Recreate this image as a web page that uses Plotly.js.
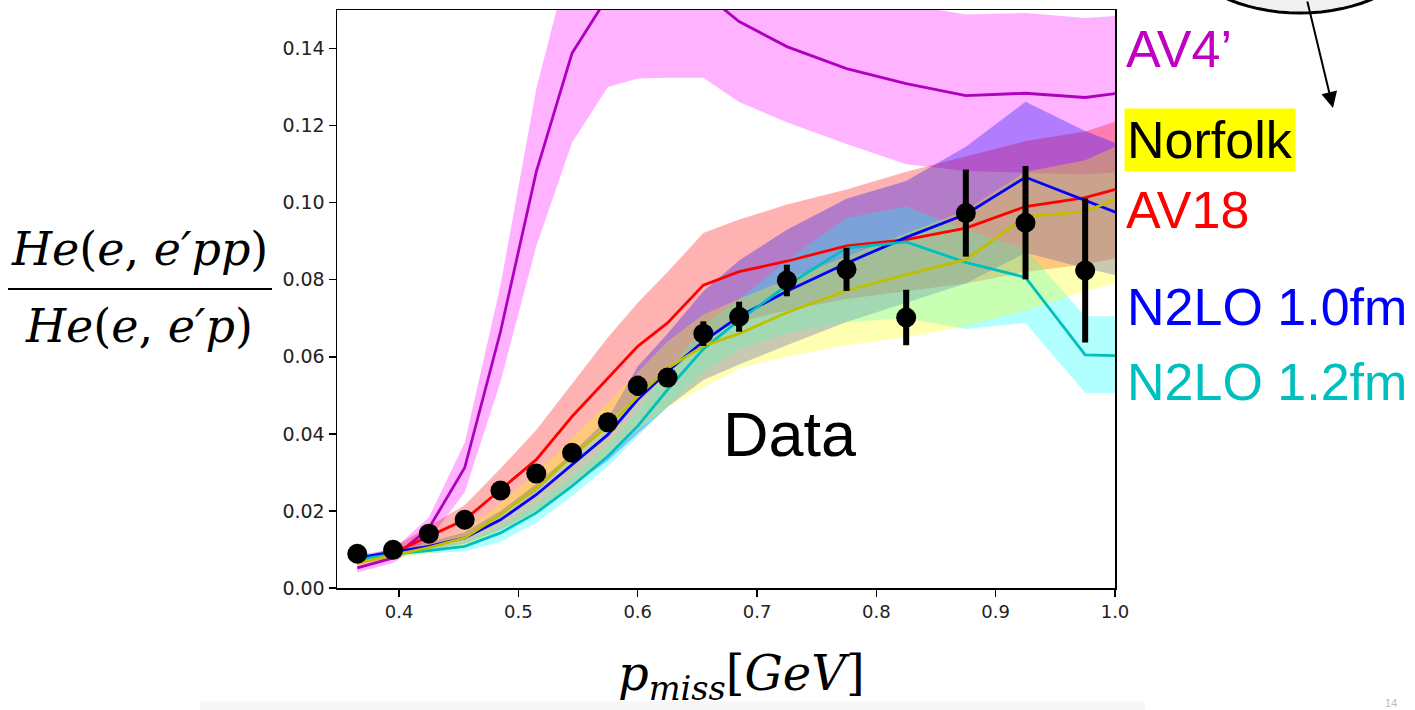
<!DOCTYPE html>
<html>
<head>
<meta charset="utf-8">
<script src="https://cdn.plot.ly/plotly-3.0.1.min.js"></script>
<style>html,body{margin:0;padding:0;background:#fff;}#chart{width:1415px;height:710px;}</style>
</head>
<body>
<div id="chart"></div>
<script>
// ---- theory grid ----
const xTheory = [0.365,0.395,0.425,0.455,0.485,0.515,0.545,0.575,0.6,0.625,0.655,0.685,0.725,0.775,0.825,0.875,0.925,0.975,1.025];

// AV4'
const av4Line = [0.0052,0.0078,0.0155,0.0312,0.0665,0.1080,0.1388,0.1535,0.1580,0.1590,0.1545,0.1470,0.1405,0.1348,0.1309,0.1278,0.1284,0.1273,0.1293];
const av4Hi   = [0.0065,0.0100,0.0183,0.0377,0.0785,0.1295,0.1657,0.1800,0.1850,0.1850,0.1800,0.1720,0.1650,0.1580,0.1515,0.1488,0.1492,0.1479,0.1490];
const av4Lo   = [0.0040,0.0065,0.0125,0.0248,0.0535,0.0887,0.1156,0.1300,0.1322,0.1324,0.1324,0.1261,0.1209,0.1152,0.1100,0.1082,0.1078,0.1073,0.1083];

// AV18
const av18Line = [0.0069,0.0091,0.0134,0.0177,0.0255,0.0333,0.0445,0.0545,0.0627,0.0688,0.0786,0.0821,0.0848,0.0888,0.0904,0.0934,0.0990,0.1013,0.1055];
const av18Hi   = [0.0075,0.0105,0.0160,0.0215,0.0310,0.0410,0.0530,0.0650,0.0740,0.0820,0.0921,0.0956,0.0995,0.1034,0.1080,0.1120,0.1160,0.1185,0.1235];
const av18Lo   = [0.0060,0.0080,0.0110,0.0135,0.0190,0.0250,0.0340,0.0430,0.0500,0.0560,0.0650,0.0690,0.0720,0.0750,0.0770,0.0790,0.0820,0.0840,0.0870];

// N2LO 1.0 fm
const n10Line = [0.0078,0.0093,0.0108,0.0130,0.0177,0.0242,0.0320,0.0398,0.0489,0.0562,0.0640,0.0705,0.0770,0.0843,0.0910,0.0970,0.1066,0.1006,0.0946];
const n10Hi   = [0.0085,0.0100,0.0120,0.0145,0.0200,0.0270,0.0350,0.0440,0.0575,0.0660,0.0770,0.0850,0.0930,0.1010,0.1056,0.1145,0.1262,0.1186,0.1125];
const n10Lo   = [0.0070,0.0085,0.0098,0.0115,0.0150,0.0200,0.0265,0.0330,0.0400,0.0470,0.0540,0.0580,0.0630,0.0690,0.0740,0.0790,0.0870,0.0830,0.0795];

// N2LO 1.2 fm
const n12Line = [0.0073,0.0088,0.0097,0.0108,0.0143,0.0195,0.0264,0.0342,0.0420,0.0515,0.0620,0.0695,0.0785,0.0882,0.0898,0.0845,0.0806,0.0605,0.0601];
const n12Hi   = [0.0080,0.0095,0.0105,0.0120,0.0160,0.0220,0.0290,0.0370,0.0460,0.0560,0.0680,0.0750,0.0850,0.0960,0.0990,0.0930,0.0880,0.0705,0.0705];
const n12Lo   = [0.0065,0.0080,0.0090,0.0095,0.0120,0.0170,0.0238,0.0316,0.0393,0.0471,0.0560,0.0620,0.0660,0.0690,0.0700,0.0672,0.0688,0.0506,0.0506];

// Norfolk
const norLine = [0.0065,0.0085,0.0105,0.0130,0.0190,0.0260,0.0342,0.0420,0.0497,0.0570,0.0628,0.0660,0.0715,0.0772,0.0813,0.0852,0.0964,0.0977,0.1040];
const norHi   = [0.0075,0.0095,0.0120,0.0150,0.0220,0.0300,0.0390,0.0480,0.0560,0.0640,0.0710,0.0750,0.0800,0.0860,0.0920,0.0980,0.1080,0.1110,0.1180];
const norLo   = [0.0055,0.0075,0.0090,0.0110,0.0150,0.0200,0.0270,0.0340,0.0410,0.0470,0.0520,0.0570,0.0600,0.0630,0.0650,0.0680,0.0720,0.0770,0.0810];

// ---- data ----
const xData   = [0.365,0.395,0.425,0.455,0.485,0.515,0.545,0.575,0.6,0.625,0.655,0.685,0.725,0.775,0.825,0.875,0.925,0.975];
const yData   = [0.0089,0.0099,0.0141,0.0177,0.0253,0.0297,0.0351,0.0430,0.0525,0.0546,0.0660,0.0704,0.0798,0.0827,0.0702,0.0973,0.0948,0.0824];
const errData = [0.0010,0.0010,0.0012,0.0013,0.0015,0.0016,0.0018,0.0020,0.0026,0.0022,0.0032,0.0039,0.0041,0.0056,0.0072,0.0113,0.0147,0.0187];

const xTicks = [0.4,0.5,0.6,0.7,0.8,0.9,1.0];
const yTicks = [0.00,0.02,0.04,0.06,0.08,0.10,0.12,0.14];

function band(hi, lo, fill) {
  return {x: xTheory.concat(xTheory.slice().reverse()), y: hi.concat(lo.slice().reverse()),
    type:'scatter', mode:'lines', fill:'toself', fillcolor: fill,
    line:{width:0, color:'rgba(0,0,0,0)'}, hoverinfo:'skip', showlegend:false};
}
function line(y, color) {
  return {x: xTheory, y: y, type:'scatter', mode:'lines', line:{color: color, width:2.8}, showlegend:false};
}

const traces = [
  band(av4Hi, av4Lo, 'rgba(255,0,255,0.3)'),
  band(av18Hi, av18Lo, 'rgba(255,0,0,0.3)'),
  band(n10Hi, n10Lo, 'rgba(0,0,255,0.3)'),
  band(n12Hi, n12Lo, 'rgba(0,255,255,0.3)'),
  band(norHi, norLo, 'rgba(255,255,0,0.3)'),
  line(av4Line, '#b000bf'),
  line(av18Line, '#ff0000'),
  line(n10Line, '#0000ff'),
  line(n12Line, '#00bfbf'),
  line(norLine, '#bfbf00'),
  {x: xData, y: yData, type:'scatter', mode:'markers',
   marker:{color:'#000', size:20},
   error_y:{type:'data', array: errData, visible:true, color:'#000', thickness:6, width:0},
   showlegend:false}
];

// pixel -> paper helpers (plot area: x 337..1115, y 10..588)
const L=337, R=1115, T=10, B=588;
const px = v => (v-L)/(R-L);
const py = v => (B-v)/(B-T);

const sans = 'Liberation Sans, Arial, sans-serif';
const serif = 'DejaVu Serif, serif';

function txt(text, xp, yp, font, extra) {
  return Object.assign({text: text, xref:'paper', yref:'paper', x: px(xp), y: py(yp),
    xanchor:'left', yanchor:'middle', showarrow:false, font: font}, extra || {});
}

const annotations = [
  txt('AV4’', 1124, 49, {family:sans, size:52, color:'#c000c0'}),
  txt('Norfolk', 1124, 140, {family:sans, size:52, color:'#000'}, {bgcolor:'#ffff00', borderpad:2}),
  txt('AV18', 1124, 210, {family:sans, size:52, color:'#ff0000'}),
  txt('N2LO 1.0fm', 1125, 307, {family:sans, size:52, color:'#0000ff'}),
  txt('N2LO 1.2fm', 1125, 382, {family:sans, size:52, color:'#00bfbf'}),
  txt('Data', 790, 434, {family:sans, size:63, color:'#000'}, {xanchor:'center'}),
  txt('<i>He</i>(<i>e</i>, <i>e′pp</i>)', 139, 249, {family:serif, size:46, color:'#000'}, {xanchor:'center'}),
  txt('<i>He</i>(<i>e</i>, <i>e′p</i>)', 139, 326, {family:serif, size:46, color:'#000'}, {xanchor:'center'}),
  txt('<i>p</i><sub><i>miss</i></sub>[<i>GeV</i>]', 741, 676, {family:serif, size:48, color:'#000'}, {xanchor:'center'}),
  txt('14', 1391, 703, {family:sans, size:11, color:'#bbb'}, {xanchor:'center'}),
  {text:'', xref:'paper', yref:'paper', x:px(1333), y:py(108), axref:'pixel', ayref:'pixel', ax:-26, ay:-108,
   showarrow:true, arrowhead:2, arrowsize:1.6, arrowwidth:2, arrowcolor:'#000'}
];

// ellipse arc at top right (slide decoration)
const ecx=1300, ecy=-60, erx=123, ery=73;
const ellipsePath = (() => {
  let d='';
  for (let i=0;i<=72;i++){
    const t = i/72*2*Math.PI;
    const X = px(ecx+erx*Math.cos(t)), Y = py(ecy+ery*Math.sin(t));
    d += (i===0?'M':'L') + X.toFixed(5) + ',' + Y.toFixed(5);
  }
  return d+'Z';
})();

const shapes = [
  {type:'line', xref:'paper', yref:'paper', x0:px(8), x1:px(272), y0:py(289), y1:py(289), line:{color:'#000', width:2}},
  {type:'path', xref:'paper', yref:'paper', path: ellipsePath, fillcolor:'#f0f0f0', line:{color:'#000', width:3}},
  {type:'rect', xref:'paper', yref:'paper', x0:px(200), x1:px(1145), y0:py(701), y1:py(712), fillcolor:'#f7f7f7', line:{width:0}, layer:'below'}
];

const layout = {
  width:1415, height:710,
  margin:{l:L, r:1415-R, t:T, b:710-B, pad:0},
  paper_bgcolor:'#fff', plot_bgcolor:'#fff',
  showlegend:false,
  xaxis:{range:[0.348,1.0], tickvals:xTicks, tickformat:'.1f', ticks:'outside', ticklen:7, tickwidth:1.5, tickcolor:'#000',
         showline:true, mirror:true, linecolor:'#000', linewidth:1.5, showgrid:false, zeroline:false,
         tickfont:{family:'DejaVu Sans, sans-serif', size:18, color:'#222'}},
  yaxis:{range:[0,0.15], tickvals:yTicks, tickformat:'.2f', ticks:'outside', ticklen:7, tickwidth:1.5, tickcolor:'#000',
         showline:true, mirror:true, linecolor:'#000', linewidth:1.5, showgrid:false, zeroline:false,
         tickfont:{family:'DejaVu Sans, sans-serif', size:19, color:'#222'}},
  annotations: annotations,
  shapes: shapes
};

Plotly.newPlot('chart', traces, layout, {displayModeBar:false, staticPlot:true});
</script>
</body>
</html>
